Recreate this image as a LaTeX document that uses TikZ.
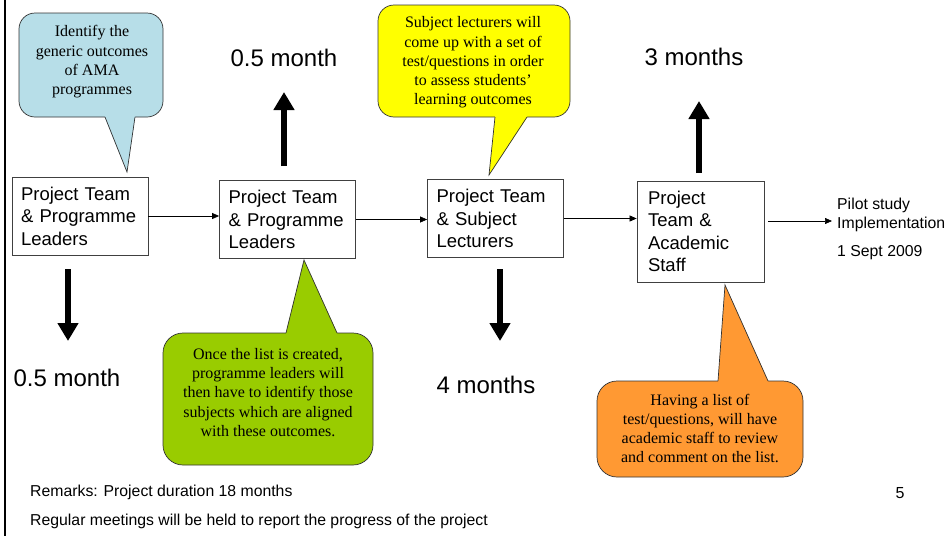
\documentclass[tikz,border=0pt]{standalone}
\usepackage{fontspec}
\setmainfont{Liberation Serif}
\setsansfont{Liberation Sans}
\usetikzlibrary{arrows.meta}
\definecolor{cteal}{RGB}{183,222,232}
\definecolor{cgreen}{RGB}{153,204,0}
\definecolor{cyellow}{RGB}{255,255,0}
\definecolor{corange}{RGB}{255,153,51}
\begin{document}
\begin{tikzpicture}[x=1pt,y=-1pt,
  stagebox/.style={draw=black!75, line width=0.8pt, fill=white, align=left,
    font=\sffamily\fontsize{18.5}{22.5}\selectfont, minimum height=78pt,
    inner xsep=9pt, text width=118pt, anchor=center},
  flow/.style={line width=0.7pt, -{Triangle[length=7pt,width=6pt]}},
  bigarrow/.style={line width=6.5pt, -{Triangle[length=18pt,width=20pt]}},
  biglabel/.style={font=\sffamily\fontsize{24}{28}\selectfont, inner sep=0pt},
  bubble/.style={draw=black!80, line width=0.7pt, rounded corners=16pt, inner sep=0pt},
  bubbletext/.style={font=\fontsize{16}{19.3}\selectfont, align=center, inner sep=0pt},
  tail/.style={draw=black!80, line width=0.7pt, line join=miter},
  note/.style={font=\sffamily\fontsize{15.8}{19}\selectfont, inner sep=0pt, anchor=west}
]
\useasboundingbox (0,0) rectangle (951,536);
\fill[white] (0,0) rectangle (951,536);
\draw[line width=2pt] (4.5,0) -- (4.5,536);

% stage boxes
\node[stagebox, minimum width=136pt] (box1) at (80,216) {Project Team\\\& Programme\\Leaders};
\node[stagebox, minimum width=135pt] (box2) at (287.5,219.5) {Project Team\\\& Programme\\Leaders};
\node[stagebox, minimum width=135pt] (box3) at (495.5,218.5) {Project Team\\\& Subject\\Lecturers};
\node[stagebox, minimum width=127pt, minimum height=101pt, inner xsep=11pt, text width=105pt] (box4) at (700.5,231.5) {Project\\Team \&\\Academic\\Staff};

\node[font=\sffamily\fontsize{15.8}{19}\selectfont, align=left, inner xsep=5pt, inner ysep=1pt, anchor=west] (pilot) at (832,214.5) {Pilot study\\Implementation};
\node[font=\sffamily\fontsize{15.8}{19}\selectfont, inner xsep=5pt, inner ysep=1pt, anchor=west] (date) at (832,253) {1 Sept 2009};

\draw[flow] (box1.east) -- (box1.east -| box2.west);
\draw[flow] (box2.east) -- (box2.east -| box3.west);
\draw[flow] (box3.east) -- (box3.east -| box4.west);
\coordinate (b4out) at (768,221);
\draw[flow] (b4out) -- (b4out -| pilot.west);

% thick duration arrows
\coordinate (d1s) at (68,269); \coordinate (d1e) at (68,341);
\coordinate (u2s) at (284,166); \coordinate (u2e) at (284,92);
\coordinate (d3s) at (500,269); \coordinate (d3e) at (500,341);
\coordinate (u4s) at (699,173); \coordinate (u4e) at (699,101);
\draw[bigarrow] (d1s) -- (d1e);
\draw[bigarrow] (u2s) -- (u2e);
\draw[bigarrow] (d3s) -- (d3e);
\draw[bigarrow] (u4s) -- (u4e);

\node[biglabel] (l1) at (67,378) {0.5 month};
\node[biglabel] (l2) at (284,58) {0.5 month};
\node[biglabel] (l3) at (486,385) {4 months};
\node[biglabel] (l4) at (694,57) {3 months};

% teal callout
\node[bubble, fill=cteal, minimum width=144pt, minimum height=104pt] (c1) at (91,65) {};
\fill[cteal] (105,110) -- (105,117.6) -- (127,172) -- (135,117.6) -- (135,110) -- cycle;
\draw[tail] (105,117) -- (127,172) -- (135,117);
\node[bubbletext] (t1) at (92,62) {Identify the\\generic outcomes\\of AMA\\programmes};

% yellow callout
\node[bubble, fill=cyellow, minimum width=192pt, minimum height=112pt] (c3) at (474,61) {};
\fill[cyellow] (495,110) -- (495,117.6) -- (489,175) -- (527,117.6) -- (527,110) -- cycle;
\draw[tail] (495,117) -- (489,175) -- (527,117);
\node[bubbletext] (t3) at (473,62.5) {Subject lecturers will\\come up with a set of\\test/questions in order\\to assess students'\\learning outcomes};

% green callout
\node[bubble, fill=cgreen, minimum width=210pt, minimum height=132pt, rounded corners=20pt] (c2) at (268,399) {};
\fill[cgreen] (286,340) -- (286,332.4) -- (304,260) -- (337,332.4) -- (337,340) -- cycle;
\draw[tail] (286,333) -- (304,260) -- (337,333);
\node[bubbletext] (t2) at (268,392.5) {Once the list is created,\\programme leaders will\\then have to identify those\\subjects which are aligned\\with these outcomes.};

% orange callout
\node[bubble, fill=corange, minimum width=206pt, minimum height=96pt, rounded corners=20pt] (c4) at (700,429) {};
\fill[corange] (718,388) -- (718,380.4) -- (725,285) -- (768,380.4) -- (768,388) -- cycle;
\draw[tail] (718,381) -- (725,285) -- (768,381);
\node[bubbletext] (t4) at (700,428.5) {Having a list of\\test/questions, will have\\academic staff to review\\and comment on the list.};

% remarks
\node[note] (r1) at (30,492) {Remarks: Project duration 18 months};
\node[note] (r2) at (30,521) {Regular meetings will be held to report the progress of the project};
\node[font=\sffamily\fontsize{16}{19}\selectfont, inner sep=0pt] (pg) at (900,493) {5};
\end{tikzpicture}
\end{document}
